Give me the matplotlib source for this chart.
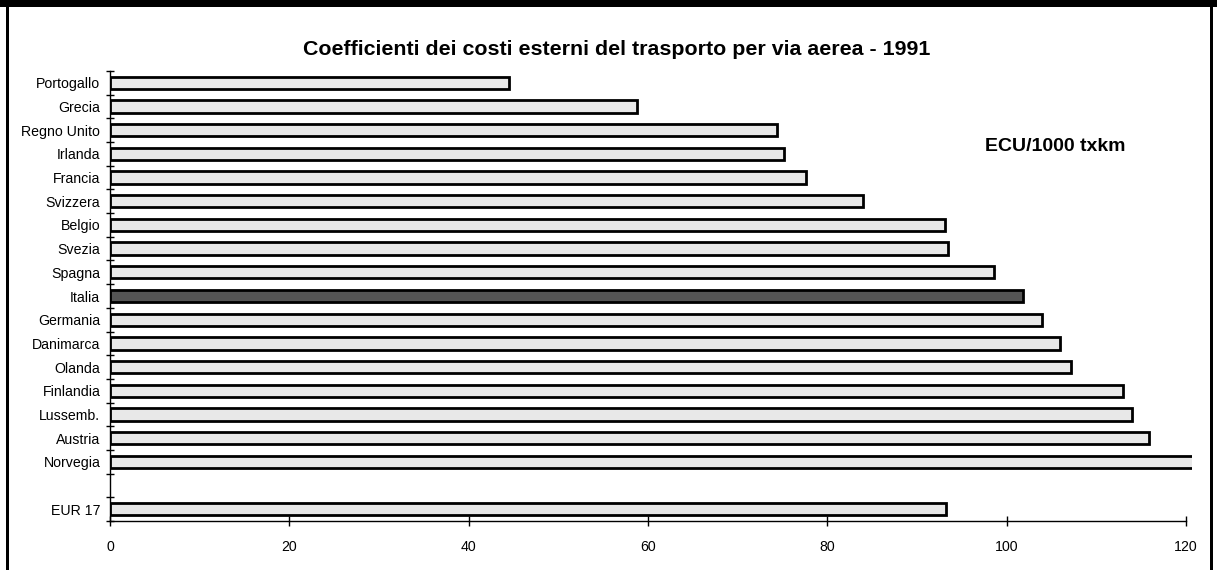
import matplotlib
matplotlib.use("Agg")
import matplotlib.pyplot as plt
from matplotlib.patches import Rectangle
import numpy as np

plt.rcParams['font.family'] = ['Liberation Sans', 'DejaVu Sans']

# External cost coefficients of air transport, 1991 (ECU per 1000 t*km)
countries = ["Portogallo", "Grecia", "Regno Unito", "Irlanda", "Francia",
             "Svizzera", "Belgio", "Svezia", "Spagna", "Italia", "Germania",
             "Danimarca", "Olanda", "Finlandia", "Lussemb.", "Austria",
             "Norvegia"]
values = [44.5, 58.8, 74.4, 75.2, 77.6, 84.0, 93.1, 93.4, 98.6, 101.8,
          103.9, 105.9, 107.2, 113.0, 114.0, 115.9, 124.0]
total_label = "EUR 17"
total_value = 93.2
highlight = "Italia"
xticks = [0, 20, 40, 60, 80, 100, 120]

title = "Coefficienti dei costi esterni del trasporto per via aerea - 1991"
unit = "ECU/1000 txkm"

fig = plt.figure(figsize=(12.17, 5.70), dpi=100)
fig.patch.set_facecolor("white")
ax = fig.add_axes([110 / 1217, 49 / 570, (1192.3 - 110) / 1217, 450 / 570])

# Countries top to bottom, then an empty slot, then the EU aggregate
n = len(countries)
pos = np.arange(n)[::-1] + 2          # Portogallo at top
labels = countries + [total_label]
ypos = list(pos) + [0]
vals = values + [total_value]
colors = ["#555555" if c == highlight else "#e8e8e8" for c in labels]

ax.barh(ypos, vals, height=0.52, color=colors, edgecolor="black",
        linewidth=2.0, zorder=2)

ax.set_xlim(0, 120.7)
ax.set_ylim(-0.5, n + 1.5)

# Axis styling
for s in ["top", "right"]:
    ax.spines[s].set_visible(False)
ax.spines["left"].set_linewidth(1.0)
ax.spines["bottom"].set_linewidth(1.0)
ax.spines["bottom"].set_bounds(0, 120)

ax.set_xticks(xticks)
ax.set_xticklabels([str(t) for t in xticks], fontsize=10.2)
ax.tick_params(axis="x", direction="inout", length=7, width=1.0, pad=10)

# Category separators as major ticks, labels on minor ticks
ax.set_yticks(np.arange(-0.5, n + 2, 1.0))
ax.set_yticklabels([])
ax.tick_params(axis="y", which="major", direction="inout", length=6, width=1.0)
ax.set_yticks(ypos, minor=True)
ax.set_yticklabels(labels, minor=True, fontsize=10.2)
ax.tick_params(axis="y", which="minor", length=0, pad=7)

ax.text(97.6, 15.3, unit, fontsize=14, fontweight="bold", va="center",
        ha="left")

fig.text(0.507, 0.914, title, fontsize=15.4, fontweight="bold",
         ha="center", va="center")

# Frame around the figure
fig.patches.append(Rectangle((0, 563 / 570), 1, 7 / 570, transform=fig.transFigure,
                             facecolor="black", edgecolor="none"))
fig.patches.append(Rectangle((6 / 1217, 0), 3 / 1217, 1, transform=fig.transFigure,
                             facecolor="black", edgecolor="none"))
fig.patches.append(Rectangle((1210 / 1217, 0), 3 / 1217, 1, transform=fig.transFigure,
                             facecolor="black", edgecolor="none"))

fig.savefig("out.png", dpi=100)
